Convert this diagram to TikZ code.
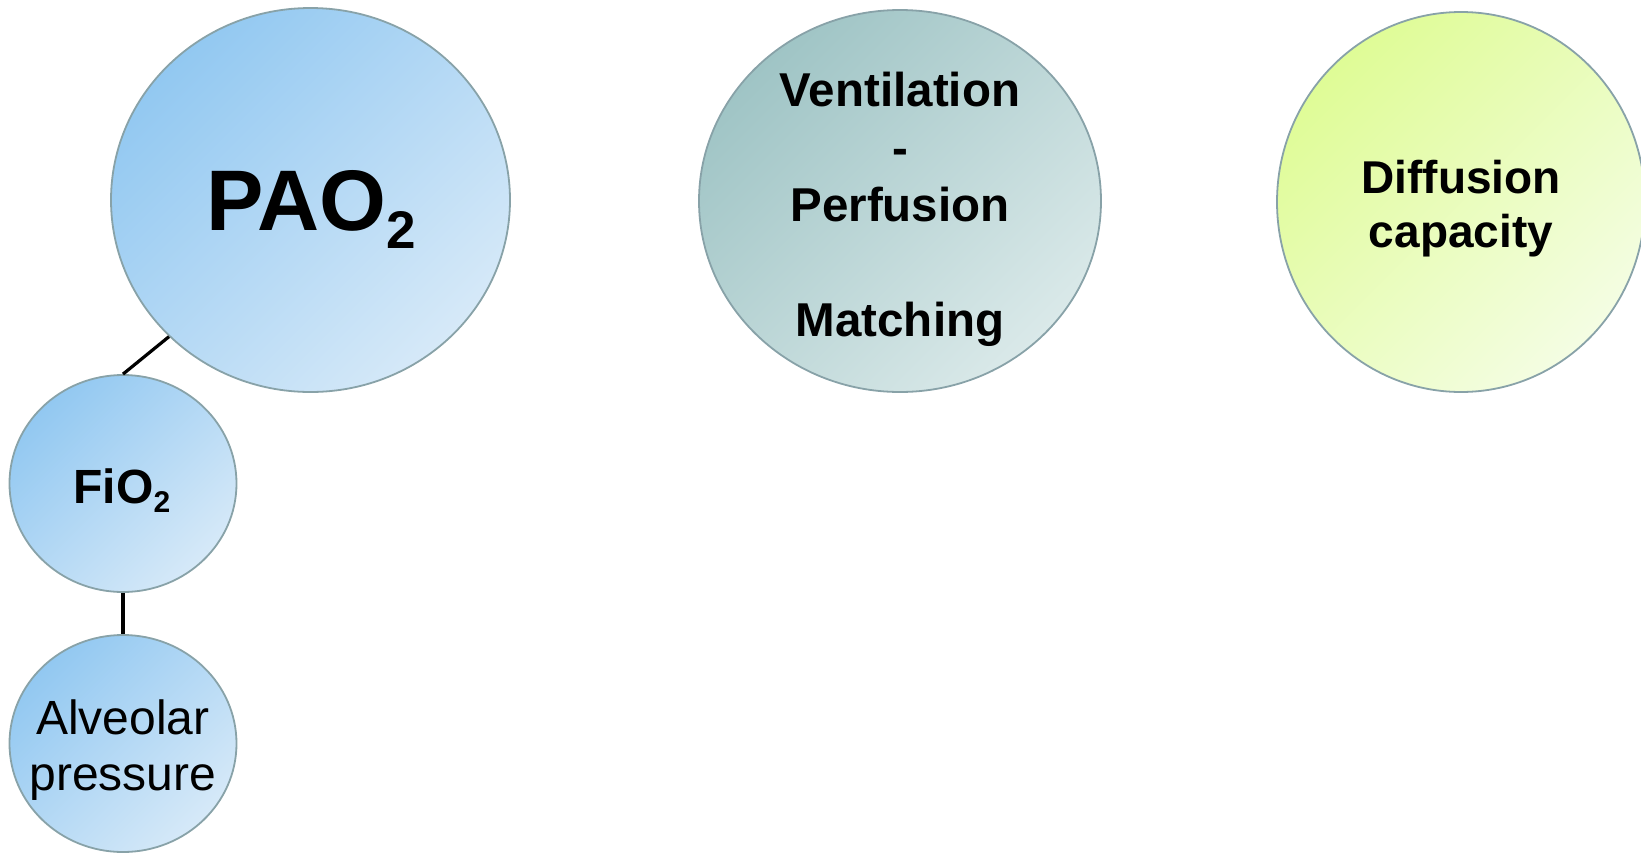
\documentclass[tikz,border=0pt]{standalone}
\usepackage{fontspec}
\setmainfont{Liberation Sans}
\usetikzlibrary{shapes.geometric}
\definecolor{blueA}{HTML}{92C8F1}
\definecolor{blueB}{HTML}{D6E9F8}
\definecolor{tealA}{HTML}{9FC4C5}
\definecolor{tealB}{HTML}{DAE9E9}
\definecolor{greenA}{HTML}{DFFC96}
\definecolor{greenB}{HTML}{F4FDE3}
\definecolor{bordc}{HTML}{88A2A8}
\begin{document}
\begin{tikzpicture}[x=1pt,y=-1pt,
  bub/.style={ellipse, draw=bordc, line width=1.8pt, inner sep=0pt},
  bluebub/.style={bub, top color=blueA, bottom color=blueB, shading angle=45},
  tealbub/.style={bub, top color=tealA, bottom color=tealB, shading angle=45},
  greenbub/.style={bub, top color=greenA, bottom color=greenB, shading angle=45},
  lbl/.style={inner sep=0pt, align=center, text=black},
  conn/.style={draw=black, line width=3.2pt}]
\useasboundingbox (0,0) rectangle (1641,852);
\clip (0,0) rectangle (1641,852);
% bubbles
\node[bluebub, minimum width=399pt, minimum height=384pt] (pao) at (310.5,200) {};
\node[tealbub, minimum width=402pt, minimum height=382pt] (vpm) at (900,201) {};
\node[greenbub, minimum width=368pt, minimum height=380pt] (dif) at (1461,202) {};
\node[bluebub, minimum width=227pt, minimum height=217pt] (fio) at (123,483.5) {};
\node[bluebub, minimum width=227pt, minimum height=217pt] (alv) at (123,743.5) {};
% connectors
\draw[conn] (pao.224) -- (fio.north);
\draw[conn] (fio.south) -- (alv.north);
% labels
\node[lbl, anchor=base, font=\fontsize{86}{92}\selectfont\bfseries] (paot) at (311,230)
  {PAO\raisebox{-18pt}{\fontsize{53}{53}\selectfont 2}};
\node[lbl, font=\fontsize{47.5}{57.5}\selectfont\bfseries] (vpmt) at (900,209.5)
  {Ventilation\\-\\Perfusion\\[57.5pt]Matching};
\node[lbl, font=\fontsize{46}{54}\selectfont\bfseries] (dift) at (1461,209)
  {Diffusion\\capacity};
\node[lbl, anchor=base, font=\fontsize{48}{54}\selectfont\bfseries] (fiot) at (122,503)
  {FiO\raisebox{-9pt}{\fontsize{30}{30}\selectfont 2}};
\node[lbl, font=\fontsize{48}{56}\selectfont] (alvt) at (123,750)
  {Alveolar\\pressure};
\end{tikzpicture}
\end{document}
